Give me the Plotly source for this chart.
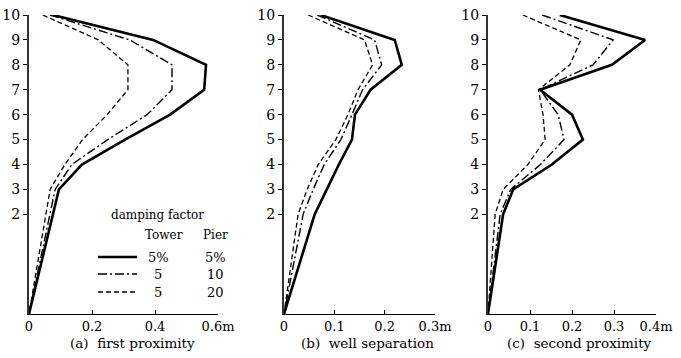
import plotly.graph_objects as go

# ---- data ----
levels = [10, 9, 8, 7, 6, 5, 4, 3, 2, -2]   # -2 = base of the pier
ytick_vals = [2, 3, 4, 5, 6, 7, 8, 9, 10]

a_solid   = [0.076, 0.394, 0.562, 0.556, 0.448, 0.305, 0.168, 0.095, None, 0]
a_dashdot = [0.067, 0.320, 0.454, 0.454, 0.375, 0.250, 0.136, 0.083, None, 0]
a_dashed  = [0.044, 0.220, 0.314, 0.314, 0.248, 0.170, 0.114, 0.067, None, 0]

b_solid   = [0.073, 0.220, 0.234, 0.172, 0.141, 0.135, 0.109, 0.085, 0.061, 0]
b_dashdot = [0.066, 0.180, 0.194, 0.156, 0.135, 0.113, 0.080, 0.058, 0.038, 0]
b_dashed  = [0.048, 0.160, 0.176, 0.147, 0.127, 0.103, 0.068, 0.046, 0.028, 0]

c_solid   = [0.171, 0.374, 0.295, 0.124, 0.200, 0.226, 0.152, 0.060, 0.036, 0]
c_dashdot = [0.129, 0.298, 0.250, 0.124, 0.167, 0.181, 0.125, 0.054, 0.029, 0]
c_dashed  = [0.083, 0.221, 0.195, 0.120, 0.131, 0.136, 0.095, 0.036, 0.017, 0]

xa_ticks = [0, 0.2, 0.4, 0.6]; xa_text = ["0", "0.2", "0.4", "0.6m"]
xb_ticks = [0, 0.1, 0.2, 0.3]; xb_text = ["0", "0.1", "0.2", "0.3m"]
xc_ticks = [0, 0.1, 0.2, 0.3, 0.4]; xc_text = ["0", "0.1", "0.2", "0.3", "0.4m"]

captions = ["(a)  first proximity", "(b)  well separation", "(c)  second proximity"]
legend_title = "damping factor"
legend_head = ["Tower", "Pier"]
legend_rows = [("5%", "5%"), ("5", "10"), ("5", "20")]

FONT = "DejaVu Serif"
W, H = 681, 358

styles = [dict(width=2.6, dash="solid"),
          dict(width=1.4, dash="9px,3px,2px,3px"),
          dict(width=1.3, dash="5px,3px")]

fig = go.Figure()
panels = [("x", "y", [a_solid, a_dashdot, a_dashed]),
          ("x2", "y2", [b_solid, b_dashdot, b_dashed]),
          ("x3", "y3", [c_solid, c_dashdot, c_dashed])]
for xa, ya, series in panels:
    for s, st in zip(series, styles):
        fig.add_trace(go.Scatter(x=s, y=levels, xaxis=xa, yaxis=ya, mode="lines",
                                 connectgaps=True, showlegend=False,
                                 line=dict(color="black", width=st["width"], dash=st["dash"])))

ydom = [1 - 314 / H, 1 - 15 / H]
xdoms = [[29 / W, 218 / W], [284 / W, 435 / W], [488 / W, 656 / W]]
xranges = [[0, 0.6], [0, 0.3], [0, 0.4]]
xt = [(xa_ticks, xa_text), (xb_ticks, xb_text), (xc_ticks, xc_text)]

layout = dict(width=W, height=H, margin=dict(l=0, r=0, t=0, b=0, pad=0), autosize=False,
              paper_bgcolor="white", plot_bgcolor="white",
              font=dict(family=FONT, size=13, color="black"), showlegend=False)
for i in range(3):
    sfx = "" if i == 0 else str(i + 1)
    layout["xaxis" + sfx] = dict(domain=xdoms[i], range=xranges[i], anchor="y" + sfx,
                                 tickvals=xt[i][0], ticktext=xt[i][1], automargin=False,
                                 ticks="inside", ticklen=4, tickcolor="black",
                                 showline=True, linecolor="black", linewidth=1,
                                 showgrid=False, zeroline=False,
                                 tickfont=dict(family=FONT, size=13))
    layout["yaxis" + sfx] = dict(domain=ydom, range=[-2, 10], anchor="x" + sfx,
                                 tickvals=ytick_vals, ticks="outside", ticklen=4, automargin=False,
                                 tickcolor="black", showline=True, linecolor="#333",
                                 linewidth=2, showgrid=False, zeroline=False,
                                 tickfont=dict(family=FONT, size=14))
fig.update_layout(**layout)

# captions
cap_x = [132, 367, 579]
for c, cx in zip(captions, cap_x):
    fig.add_annotation(x=cx / W, y=1 - 343 / H, xref="paper", yref="paper",
                       text=c, showarrow=False, font=dict(family=FONT, size=13.5),
                       xanchor="center", yanchor="middle")

# legend block (in panel a)
fig.add_annotation(x=157 / W, y=1 - 215 / H, xref="paper", yref="paper", text=legend_title,
                   showarrow=False, font=dict(family=FONT, size=12), xanchor="center", yanchor="middle")
fig.add_annotation(x=164 / W, y=1 - 235 / H, xref="paper", yref="paper", text=legend_head[0],
                   showarrow=False, font=dict(family=FONT, size=12), xanchor="center", yanchor="middle")
fig.add_annotation(x=215 / W, y=1 - 235 / H, xref="paper", yref="paper", text=legend_head[1],
                   showarrow=False, font=dict(family=FONT, size=12), xanchor="center", yanchor="middle")
row_y = [257, 274, 292]
for (t, p), ry, st in zip(legend_rows, row_y, styles):
    fig.add_shape(type="line", xref="paper", yref="paper",
                  x0=98 / W, x1=137 / W, y0=1 - ry / H, y1=1 - ry / H,
                  line=dict(color="black", width=st["width"], dash=st["dash"]))
    fig.add_annotation(x=158 / W, y=1 - ry / H, xref="paper", yref="paper", text=t,
                       showarrow=False, font=dict(family=FONT, size=13), xanchor="center", yanchor="middle")
    fig.add_annotation(x=215 / W, y=1 - ry / H, xref="paper", yref="paper", text=p,
                       showarrow=False, font=dict(family=FONT, size=13), xanchor="center", yanchor="middle")

fig.write_html("out.html")
